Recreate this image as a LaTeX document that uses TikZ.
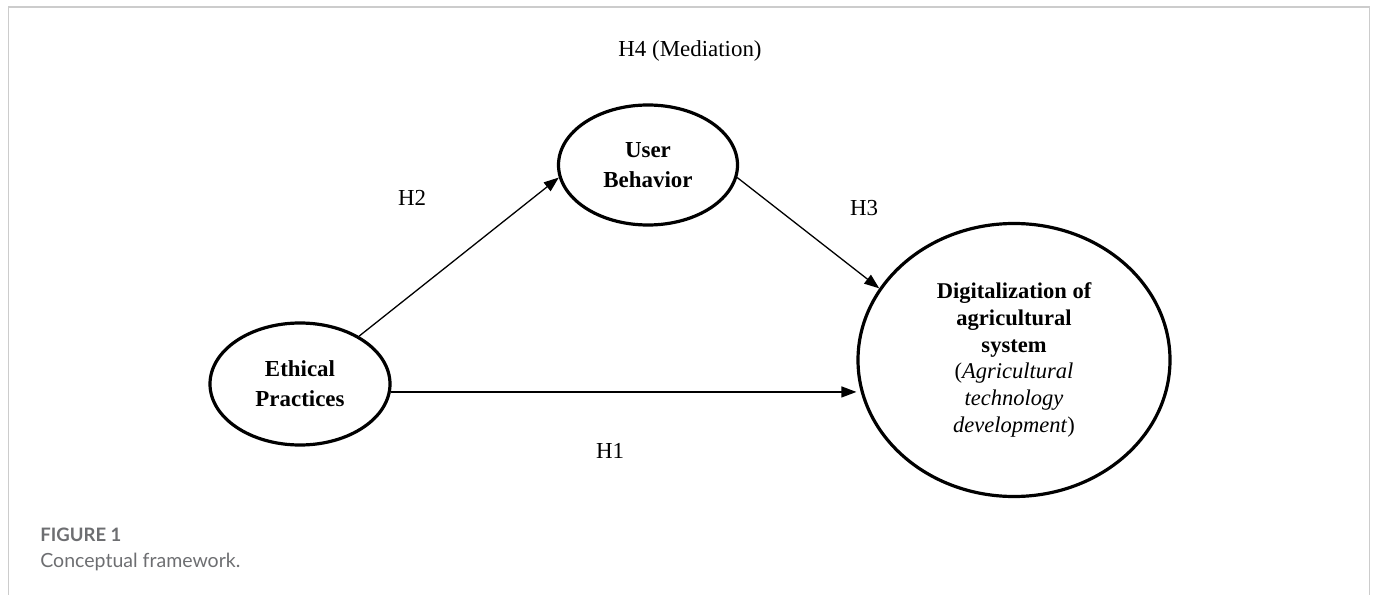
\documentclass[tikz,border=0pt]{standalone}
\usepackage{fontspec}
\setmainfont{Liberation Serif}
\newfontfamily\capfont{Lato}
\usetikzlibrary{shapes.geometric, arrows.meta}
\definecolor{framegray}{HTML}{CCCCCC}
\definecolor{capgray}{HTML}{6D6E71}
\tikzset{
  construct/.style={
    ellipse, draw, line width=1.6bp, align=center, inner sep=0pt,
    font=\fontsize{11.5}{15}\selectfont\bfseries
  },
  arrow/.style={-{Triangle[length=7.5bp,width=5.5bp]}, line width=0.65bp},
  hyp/.style={anchor=base, font=\fontsize{11.5}{14}\selectfont},
  caption/.style={anchor=base west, text=capgray, inner sep=0pt}
}

\begin{document}
\begin{tikzpicture}[x=0.5bp, y=-0.5bp]
  \useasboundingbox (0,0) rectangle (1377,595);
  % frame round the figure
  \draw[framegray, line width=0.8bp] (8.5,595) -- (8.5,7) -- (1369.5,7) -- (1369.5,595);

  % constructs
  \node[construct, minimum width=90bp, minimum height=61bp] (eth) at (300,384)
    {Ethical\\Practices};
  \node[construct, minimum width=89.5bp, minimum height=60bp] (ub) at (648,165)
    {User\\Behavior};
  \node[construct, minimum width=156bp, minimum height=136.5bp,
        font=\fontsize{11.3}{13.4}\selectfont\bfseries] (dig) at (1014,360)
    {Digitalization of\\agricultural\\system\\
     \mdseries(\textit{Agricultural}\\\mdseries\textit{technology}\\
     \mdseries\textit{development})};

  % paths
  \draw[arrow] (eth.39) -- (ub.188);
  \draw[arrow] (ub.-8) -- (dig.152);
  \draw[arrow] (eth.-5) -- (eth.-5 -| dig.west);

  % hypotheses
  \node[hyp] (h4) at (690,57) {H4 (Mediation)};
  \node[hyp] (h2) at (412,206) {H2};
  \node[hyp] (h3) at (864,215) {H3};
  \node[hyp] (h1) at (610,458) {H1};

  % caption
  \node[caption, font=\capfont\fontsize{9.3}{10}\selectfont\bfseries] (fig) at (40,541)
    {FIGURE 1};
  \node[caption, font=\capfont\fontsize{9.8}{11}\selectfont] (cap) at (40,567)
    {Conceptual framework.};
\end{tikzpicture}
\end{document}
